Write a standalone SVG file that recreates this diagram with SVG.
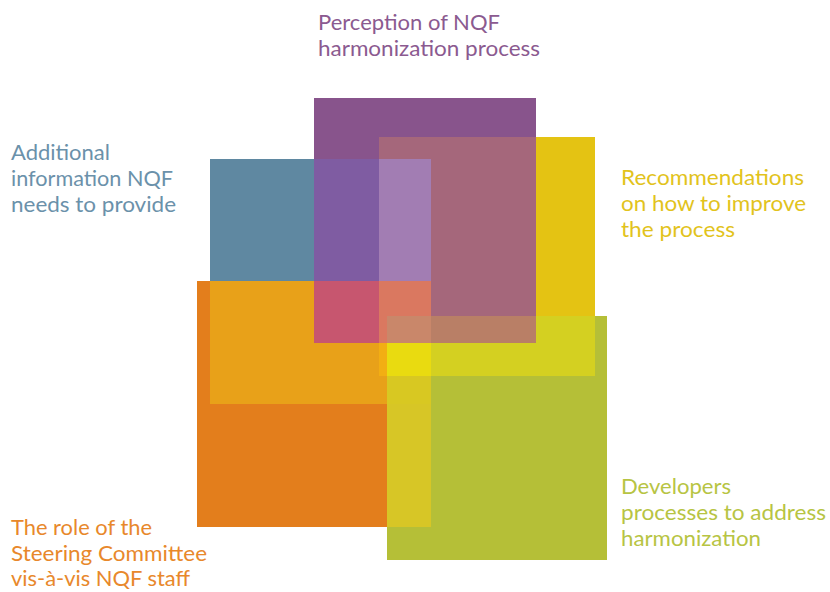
<svg xmlns="http://www.w3.org/2000/svg" width="830" height="592" viewBox="0 0 830 592">
  <style>
    .lbl { font-family: "Lato", "Open Sans", "Liberation Sans", sans-serif; font-size: 21px; }
    .t-purple { fill: #8b5a90; }
    .t-blue { fill: #6b91aa; }
    .t-yellow { fill: #e2c31c; }
    .t-green { fill: #b7c443; }
    .t-orange { fill: #e8882b; }
  </style>
  <rect width="830" height="592" fill="#ffffff"/>

  <!-- Topic blocks: one square plus its caption each -->
  <g id="node-additional-info">
    <rect x="210" y="159" width="221" height="245" fill="#5f88a1"/>
    <text class="lbl t-blue" x="11" y="160" textLength="99" lengthAdjust="spacingAndGlyphs">Additional</text>
    <text class="lbl t-blue" x="11" y="186" textLength="162" lengthAdjust="spacingAndGlyphs">information NQF</text>
    <text class="lbl t-blue" x="11" y="212" textLength="165" lengthAdjust="spacingAndGlyphs">needs to provide</text>
  </g>
  <g id="node-steering-committee">
    <rect x="197" y="281" width="234" height="246" fill="#e37e1c"/>
    <text class="lbl t-orange" x="11" y="535" textLength="141" lengthAdjust="spacingAndGlyphs">The role of the</text>
    <text class="lbl t-orange" x="11" y="561" textLength="196" lengthAdjust="spacingAndGlyphs">Steering Committee</text>
    <text class="lbl t-orange" x="11" y="586" textLength="179" lengthAdjust="spacingAndGlyphs">vis-à-vis NQF staff</text>
  </g>
  <g id="node-perception">
    <rect x="314" y="98" width="222" height="245" fill="#88548c"/>
    <text class="lbl t-purple" x="318" y="30" textLength="182" lengthAdjust="spacingAndGlyphs">Perception of NQF</text>
    <text class="lbl t-purple" x="318" y="56" textLength="222" lengthAdjust="spacingAndGlyphs">harmonization process</text>
  </g>
  <g id="node-recommendations">
    <rect x="379" y="137" width="216" height="239" fill="#e4c313"/>
    <text class="lbl t-yellow" x="621" y="185" textLength="183" lengthAdjust="spacingAndGlyphs">Recommendations</text>
    <text class="lbl t-yellow" x="621" y="211" textLength="185" lengthAdjust="spacingAndGlyphs">on how to improve</text>
    <text class="lbl t-yellow" x="621" y="237" textLength="114" lengthAdjust="spacingAndGlyphs">the process</text>
  </g>
  <g id="node-developers">
    <rect x="387" y="316" width="220" height="244" fill="#b5bf37"/>
    <text class="lbl t-green" x="621" y="494" textLength="110" lengthAdjust="spacingAndGlyphs">Developers</text>
    <text class="lbl t-green" x="621" y="520" textLength="205" lengthAdjust="spacingAndGlyphs">processes to address</text>
    <text class="lbl t-green" x="621" y="546" textLength="140" lengthAdjust="spacingAndGlyphs">harmonization</text>
  </g>

  <!-- Tinted overlap areas where the squares cross -->
  <g id="overlaps">
    <!-- blue + orange -->
    <rect x="210" y="281" width="221" height="123" fill="#e8a119"/>
    <!-- blue + purple -->
    <rect x="314" y="159" width="65" height="122" fill="#7f5ca2"/>
    <!-- blue + purple + yellow -->
    <rect x="379" y="159" width="52" height="122" fill="#a27db3"/>
    <!-- purple + yellow -->
    <rect x="379" y="137" width="157" height="22" fill="#a5677b"/>
    <rect x="431" y="159" width="105" height="157" fill="#a5677b"/>
    <!-- blue + orange + purple -->
    <rect x="314" y="281" width="65" height="62" fill="#c7566f"/>
    <!-- blue + orange + purple + yellow -->
    <rect x="379" y="281" width="52" height="62" fill="#da7860"/>
    <!-- all five -->
    <rect x="387" y="316" width="44" height="27" fill="#c9876a"/>
    <!-- purple + yellow + green -->
    <rect x="431" y="316" width="105" height="27" fill="#b97f66"/>
    <!-- yellow + green -->
    <rect x="536" y="316" width="59" height="27" fill="#d4d021"/>
    <rect x="431" y="343" width="164" height="33" fill="#d4d021"/>
    <!-- blue + orange + yellow -->
    <rect x="379" y="343" width="8" height="33" fill="#f2ae13"/>
    <!-- blue + orange + yellow + green -->
    <rect x="387" y="343" width="44" height="33" fill="#e9db10"/>
    <!-- blue + orange + green -->
    <rect x="387" y="376" width="44" height="28" fill="#d8c822"/>
    <!-- orange + green -->
    <rect x="387" y="404" width="44" height="123" fill="#d7c626"/>
  </g>
</svg>
